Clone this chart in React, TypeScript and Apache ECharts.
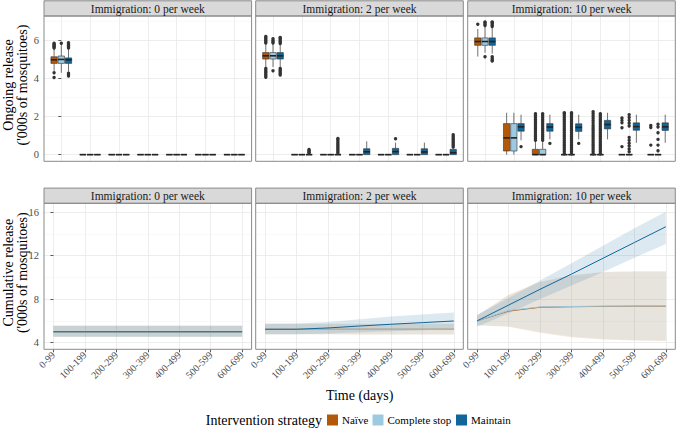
import React, { useEffect, useRef } from 'react';
import * as echarts from 'echarts';

// ---------------- DATA ----------------
const categories = ['0-99', '100-199', '200-299', '300-399', '400-499', '500-599', '600-699'];
const strategies = ['Naïve', 'Complete stop', 'Maintain'];
const strategyColors = ['#B35806', '#9ECAE1', '#10669A'];
const panelTitles = ['Immigration: 0 per week', 'Immigration: 2 per week', 'Immigration: 10 per week'];
const ongoingTicks = [0, 2, 4, 6];
const ongoingMinorTicks = [1, 3, 5, 7];
const cumulativeTicks = [4, 8, 12, 16];
const cumulativeMinorTicks = [6, 10, 14];
const timeTicks = [0, 1, 2, 3, 4, 5, 6];

// Ongoing release boxes: [lower whisker, Q1, median, Q3, upper whisker] per time window
const boxImm0Naive = [[4.4, 4.79, 4.98, 5.14, 5.55], [0, 0, 0, 0, 0], [0, 0, 0, 0, 0], [0, 0, 0, 0, 0], [0, 0, 0, 0, 0], [0, 0, 0, 0, 0], [0, 0, 0, 0, 0]];
const boxImm0Stop = [[4.3, 4.79, 5.0, 5.18, 5.8], [0, 0, 0, 0, 0], [0, 0, 0, 0, 0], [0, 0, 0, 0, 0], [0, 0, 0, 0, 0], [0, 0, 0, 0, 0], [0, 0, 0, 0, 0]];
const boxImm0Maintain = [[4.35, 4.79, 4.98, 5.08, 5.55], [0, 0, 0, 0, 0], [0, 0, 0, 0, 0], [0, 0, 0, 0, 0], [0, 0, 0, 0, 0], [0, 0, 0, 0, 0], [0, 0, 0, 0, 0]];
const boxImm2Naive = [[4.55, 5.02, 5.19, 5.36, 5.8], [0, 0, 0, 0, 0], [0, 0, 0, 0, 0], [0, 0, 0, 0, 0], [0, 0, 0, 0, 0], [0, 0, 0, 0, 0], [0, 0, 0, 0, 0]];
const boxImm2Stop = [[4.6, 5.02, 5.19, 5.36, 5.8], [0, 0, 0, 0, 0], [0, 0, 0, 0, 0], [0, 0, 0, 0, 0], [0, 0, 0, 0, 0], [0, 0, 0, 0, 0], [0, 0, 0, 0, 0]];
const boxImm2Maintain = [[4.6, 5.02, 5.19, 5.36, 5.8], [0, 0, 0, 0, 0], [0, 0, 0, 0, 0], [0, 0, 0.15, 0.31, 0.7], [0, 0, 0.16, 0.33, 0.63], [0, 0, 0.14, 0.31, 0.63], [0, 0, 0.1, 0.28, 0.34]];
const boxImm10Naive = [[5.15, 5.74, 5.94, 6.13, 6.6], [0, 0.19, 0.88, 1.63, 2.2], [0, 0, 0, 0.28, 0.7], [0, 0, 0, 0, 0], [0, 0, 0, 0, 0], [0, 0, 0, 0, 0], [0, 0, 0, 0, 0]];
const boxImm10Stop = [[5.35, 5.74, 5.94, 6.13, 6.7], [0, 0.19, 0.88, 1.63, 2.2], [0, 0, 0, 0.28, 0.7], [0, 0, 0, 0, 0], [0, 0, 0, 0, 0], [0, 0, 0, 0, 0], [0, 0, 0, 0, 0]];
const boxImm10Maintain = [[5.3, 5.74, 5.94, 6.13, 6.7], [0.75, 1.23, 1.46, 1.63, 2.1], [0.8, 1.23, 1.45, 1.63, 2.1], [0.8, 1.22, 1.43, 1.62, 2.1], [0.8, 1.35, 1.58, 1.8, 2.2], [0.62, 1.28, 1.47, 1.67, 2.1], [0.62, 1.27, 1.46, 1.67, 2.1]];

// Ongoing release outliers per time window
const outImm0Naive = [[5.6, 5.65, 5.7, 5.75, 5.8, 5.85, 4.3, 4.05], [], [], [], [], [], []];
const outImm0Stop = [[5.85], [], [], [], [], [], []];
const outImm0Maintain = [[5.6, 5.65, 5.7, 5.75, 5.8, 5.88, 4.28, 4.2, 4.13], [], [], [], [], [], []];
const outImm2Naive = [[5.86, 5.93, 6.0, 6.07, 6.14, 6.2, 4.53, 4.45, 4.37, 4.3, 4.22, 4.14, 4.06], [], [], [], [], [], []];
const outImm2Stop = [[5.86, 5.93, 6.0, 6.09, 4.4], [], [], [], [], [], []];
const outImm2Maintain = [
  [5.83, 5.9, 5.97, 6.04, 6.11, 6.15, 4.53, 4.46, 4.39, 4.32, 4.25, 4.18],
  [0.07, 0.12, 0.17, 0.22, 0.27],
  [0.07, 0.15, 0.23, 0.31, 0.39, 0.47, 0.55, 0.63, 0.71, 0.79, 0.85],
  [],
  [0.83],
  [],
  [0.4, 0.48, 0.56, 0.64, 0.72, 0.8, 0.88, 0.96, 1.04],
];
const outImm10Naive = [
  [6.85],
  [],
  [0.75, 0.85, 0.95, 1.05, 1.15, 1.25, 1.35, 1.45, 1.55, 1.65, 1.75, 1.85, 1.95, 2.05, 2.15],
  [0.05, 0.15, 0.25, 0.35, 0.45, 0.55, 0.65, 0.75, 0.85, 0.95, 1.05, 1.15, 1.25, 1.35, 1.45, 1.55, 1.65, 1.75, 1.85, 1.95, 2.05, 2.15, 2.2],
  [0.05, 0.15, 0.25, 0.35, 0.45, 0.55, 0.65, 0.75, 0.85, 0.95, 1.05, 1.15, 1.25, 1.35, 1.45, 1.55, 1.67, 1.79, 1.91, 2.03, 2.15, 2.25],
  [1.93, 1.8, 1.67, 1.41, 0.42],
  [1.53, 1.42, 0.5],
];
const outImm10Stop = [
  [6.78, 6.85, 6.92, 6.97, 5.14],
  [],
  [0.75, 0.85, 0.95, 1.05, 1.15, 1.25, 1.35, 1.45, 1.55, 1.65, 1.75, 1.85, 1.95, 2.05, 2.15],
  [0.05, 0.15, 0.25, 0.35, 0.45, 0.55, 0.65, 0.75, 0.85, 0.95, 1.05, 1.15, 1.25, 1.35, 1.45, 1.55, 1.65, 1.75, 1.85, 1.95, 2.05, 2.15, 2.2],
  [0.05, 0.15, 0.25, 0.35, 0.45, 0.55, 0.65, 0.75, 0.85, 0.95, 1.05, 1.15, 1.25, 1.35, 1.45, 1.55, 1.65, 1.75, 1.85, 1.95, 2.05, 2.15],
  [2.1, 1.95, 1.8, 1.65, 1.5, 0.9, 0.75, 0.6, 0.45, 0.3, 0.15],
  [1.6, 1.45, 1.15, 0.8, 0.5, 0.2],
];
const outImm10Maintain = [[6.73, 6.8, 6.87, 6.94, 6.97, 5.14, 5.05, 4.96, 4.92], [0.42], [0.59], [0.59], [], [], []];

// Cumulative release: mean, lower and upper bound per time window
const cumImm0NaiveMean = [5.0, 5.0, 5.0, 5.0, 5.0, 5.0, 5.0];
const cumImm0NaiveLow = [4.55, 4.55, 4.55, 4.55, 4.55, 4.55, 4.55];
const cumImm0NaiveHigh = [5.55, 5.55, 5.55, 5.55, 5.55, 5.55, 5.55];
const cumImm0StopMean = [5.0, 5.0, 5.0, 5.0, 5.0, 5.0, 5.0];
const cumImm0StopLow = [4.55, 4.55, 4.55, 4.55, 4.55, 4.55, 4.55];
const cumImm0StopHigh = [5.55, 5.55, 5.55, 5.55, 5.55, 5.55, 5.55];
const cumImm0MaintainMean = [5.0, 5.0, 5.0, 5.0, 5.0, 5.0, 5.0];
const cumImm0MaintainLow = [4.55, 4.55, 4.55, 4.55, 4.55, 4.55, 4.55];
const cumImm0MaintainHigh = [5.55, 5.55, 5.55, 5.55, 5.55, 5.55, 5.55];

const cumImm2NaiveMean = [5.23, 5.23, 5.23, 5.23, 5.23, 5.23, 5.23];
const cumImm2NaiveLow = [4.77, 4.77, 4.77, 4.76, 4.76, 4.76, 4.76];
const cumImm2NaiveHigh = [5.74, 5.74, 5.74, 5.74, 5.74, 5.74, 5.74];
const cumImm2StopMean = [5.23, 5.23, 5.23, 5.23, 5.23, 5.23, 5.23];
const cumImm2StopLow = [4.77, 4.77, 4.77, 4.77, 4.77, 4.77, 4.77];
const cumImm2StopHigh = [5.74, 5.74, 5.74, 5.74, 5.74, 5.74, 5.74];
const cumImm2MaintainMean = [5.23, 5.23, 5.35, 5.53, 5.69, 5.84, 5.99];
const cumImm2MaintainLow = [4.77, 4.77, 4.85, 4.95, 5.05, 5.15, 5.25];
const cumImm2MaintainHigh = [5.74, 5.76, 5.9, 6.15, 6.4, 6.58, 6.76];

const cumImm10NaiveMean = [6.0, 6.9, 7.25, 7.3, 7.33, 7.35, 7.35];
const cumImm10NaiveLow = [5.6, 5.45, 4.9, 4.5, 4.3, 4.2, 4.15];
const cumImm10NaiveHigh = [6.5, 8.4, 9.6, 10.2, 10.5, 10.55, 10.55];
const cumImm10StopMean = [6.0, 6.95, 7.28, 7.32, 7.35, 7.36, 7.37];
const cumImm10StopLow = [5.6, 5.5, 5.0, 4.6, 4.35, 4.25, 4.2];
const cumImm10StopHigh = [6.5, 8.3, 9.5, 10.1, 10.45, 10.5, 10.5];
const cumImm10MaintainMean = [6.0, 7.45, 8.9, 10.3, 11.75, 13.2, 14.65];
const cumImm10MaintainLow = [5.47, 6.7, 8.0, 9.25, 10.5, 11.8, 13.06];
const cumImm10MaintainHigh = [6.54, 8.1, 9.7, 11.3, 12.9, 14.5, 16.03];

// ---------------- LAYOUT / STYLE ----------------
const FONT = 'Liberation Serif';
const panelLeft = [44, 255.7, 467.7];
const panelWidth = 207.6;
const rowTop = [16, 203.3];
const rowHeight = [145.3, 146];
const stripHeight = 15.2;
const xRange = [[-0.6, 6.6], [-0.3, 6.3]];
const yRange = [[-0.35, 7.28], [3.39, 16.8]];
const boxOffsets = [-0.25, 0, 0.25];
const boxWidth = 0.22;
const bandAlpha = 0.14;

const ongoingBoxes = [
  [boxImm0Naive, boxImm0Stop, boxImm0Maintain],
  [boxImm2Naive, boxImm2Stop, boxImm2Maintain],
  [boxImm10Naive, boxImm10Stop, boxImm10Maintain],
];
const ongoingOutliers = [
  [outImm0Naive, outImm0Stop, outImm0Maintain],
  [outImm2Naive, outImm2Stop, outImm2Maintain],
  [outImm10Naive, outImm10Stop, outImm10Maintain],
];
const cumMean = [
  [cumImm0NaiveMean, cumImm0StopMean, cumImm0MaintainMean],
  [cumImm2NaiveMean, cumImm2StopMean, cumImm2MaintainMean],
  [cumImm10NaiveMean, cumImm10StopMean, cumImm10MaintainMean],
];
const cumLow = [
  [cumImm0NaiveLow, cumImm0StopLow, cumImm0MaintainLow],
  [cumImm2NaiveLow, cumImm2StopLow, cumImm2MaintainLow],
  [cumImm10NaiveLow, cumImm10StopLow, cumImm10MaintainLow],
];
const cumHigh = [
  [cumImm0NaiveHigh, cumImm0StopHigh, cumImm0MaintainHigh],
  [cumImm2NaiveHigh, cumImm2StopHigh, cumImm2MaintainHigh],
  [cumImm10NaiveHigh, cumImm10StopHigh, cumImm10MaintainHigh],
];

function textStyle(text: string, size: number, align: string, color = '#000', extra: any = {}) {
  return {
    text, fontSize: size, fontFamily: FONT, fill: color,
    align, verticalAlign: 'middle', textAlign: align, textVerticalAlign: 'middle',
    ...extra,
  };
}

function buildOption() {
  const grids: any[] = [];
  const xAxes: any[] = [];
  const yAxes: any[] = [];
  const series: any[] = [];
  const graphics: any[] = [];

  for (let r = 0; r < 2; r++) {
    for (let c = 0; c < 3; c++) {
      const g = r * 3 + c;
      grids.push({ left: panelLeft[c], top: rowTop[r], width: panelWidth, height: rowHeight[r], show: false, containLabel: false });
      xAxes.push({
        type: 'value', gridIndex: g, min: xRange[r][0], max: xRange[r][1],
        axisLine: { show: false },
        axisTick: { show: r === 1, customValues: timeTicks, length: 3, lineStyle: { color: '#333', width: 0.8 } },
        axisLabel: {
          show: r === 1, customValues: timeTicks, rotate: 45, margin: 4,
          formatter: (v: number) => categories[Math.round(v)] ?? '',
          fontFamily: FONT, fontSize: 10, color: '#4d4d4d',
        },
        splitLine: { show: true, lineStyle: { color: '#ebebeb', width: 0.9 } },
      });
      const major = r === 0 ? ongoingTicks : cumulativeTicks;
      const minor = r === 0 ? ongoingMinorTicks : cumulativeMinorTicks;
      yAxes.push({
        type: 'value', gridIndex: g, min: yRange[r][0], max: yRange[r][1], position: 'left',
        axisLine: { show: false },
        axisTick: { show: c === 0, customValues: major, length: 3, lineStyle: { color: '#333', width: 0.8 } },
        axisLabel: { show: c === 0, customValues: major, margin: 5, fontFamily: FONT, fontSize: 10.5, color: '#4d4d4d' },
        splitLine: { show: true, lineStyle: { color: '#ebebeb', width: 0.9 } },
      });
      yAxes.push({
        type: 'value', gridIndex: g, min: yRange[r][0], max: yRange[r][1], position: 'left',
        axisLine: { show: false },
        axisTick: { show: false, customValues: minor },
        axisLabel: { show: false, customValues: minor },
        splitLine: { show: true, lineStyle: { color: '#f3f3f3', width: 0.5 } },
      });

      // strip
      const stripTop = rowTop[r] - stripHeight;
      graphics.push({
        type: 'rect', z: 50,
        shape: { x: panelLeft[c], y: stripTop, width: panelWidth, height: stripHeight },
        style: { fill: '#d9d9d9', stroke: '#8a8a8a', lineWidth: 1 },
      });
      graphics.push({
        type: 'text', z: 51, x: panelLeft[c] + panelWidth / 2, y: stripTop + stripHeight / 2 + 0.5,
        style: textStyle(panelTitles[c], 11.5, 'center', '#1a1a1a'),
      });
      // panel border
      graphics.push({
        type: 'rect', z: 50,
        shape: { x: panelLeft[c], y: rowTop[r], width: panelWidth, height: rowHeight[r] },
        style: { fill: 'none', stroke: '#8a8a8a', lineWidth: 1 },
      });
    }
  }

  // Top row: box plots
  for (let c = 0; c < 3; c++) {
    for (let s = 0; s < 3; s++) {
      const color = strategyColors[s];
      const boxes = ongoingBoxes[c][s];
      series.push({
        type: 'custom', name: strategies[s], xAxisIndex: c, yAxisIndex: c * 2, silent: true,
        encode: { x: 0, y: [1, 2, 3, 4, 5] },
        data: boxes.map((b, ci) => [ci + boxOffsets[s], b[0], b[1], b[2], b[3], b[4]]),
        renderItem: (params: any, api: any) => {
          const x = api.value(0);
          const low = api.coord([x, api.value(1)]);
          const q1 = api.coord([x, api.value(2)]);
          const med = api.coord([x, api.value(3)]);
          const q3 = api.coord([x, api.value(4)]);
          const high = api.coord([x, api.value(5)]);
          const w = api.size([boxWidth, 0])[0];
          const edge = '#333333';
          return {
            type: 'group',
            children: [
              { type: 'line', shape: { x1: low[0], y1: low[1], x2: q1[0], y2: q1[1] }, style: { stroke: edge, lineWidth: 0.7 } },
              { type: 'line', shape: { x1: q3[0], y1: q3[1], x2: high[0], y2: high[1] }, style: { stroke: edge, lineWidth: 0.7 } },
              { type: 'rect', shape: { x: q3[0] - w / 2, y: q3[1], width: w, height: q1[1] - q3[1] }, style: { fill: color, stroke: edge, lineWidth: 0.6 } },
              { type: 'line', shape: { x1: med[0] - w / 2, y1: med[1], x2: med[0] + w / 2, y2: med[1] }, style: { stroke: '#222', lineWidth: 1.6 } },
            ],
          };
        },
      });
    }
    for (let s = 0; s < 3; s++) {
      const pts: number[][] = [];
      ongoingOutliers[c][s].forEach((vals, ci) => vals.forEach((v) => pts.push([ci + boxOffsets[s], v])));
      series.push({
        type: 'scatter', xAxisIndex: c, yAxisIndex: c * 2, silent: true,
        symbolSize: 3.4, itemStyle: { color: '#333333', opacity: 1 }, data: pts,
      });
    }
  }

  // Bottom row: ribbons and lines
  for (let c = 0; c < 3; c++) {
    const g = 3 + c;
    for (let s = 0; s < 3; s++) {
      const lo = cumLow[c][s];
      const hi = cumHigh[c][s];
      const fill = echarts.color.modifyAlpha(strategyColors[s], bandAlpha);
      series.push({
        type: 'custom', xAxisIndex: g, yAxisIndex: g * 2, silent: true,
        data: [[0, lo[0]]],
        renderItem: (params: any, api: any) => {
          const points: number[][] = [];
          for (let i = 0; i < hi.length; i++) points.push(api.coord([i, hi[i]]));
          for (let i = lo.length - 1; i >= 0; i--) points.push(api.coord([i, lo[i]]));
          return { type: 'polygon', shape: { points }, style: { fill } };
        },
      });
    }
    for (let s = 0; s < 3; s++) {
      series.push({
        type: 'line', xAxisIndex: g, yAxisIndex: g * 2, silent: true,
        showSymbol: false, symbol: 'none',
        lineStyle: { color: strategyColors[s], width: 1 },
        data: cumMean[c][s].map((v, i) => [i, v]),
      });
    }
  }

  // Axis titles
  graphics.push({
    type: 'text', z: 60, x: 15, y: (rowTop[0] - stripHeight + rowTop[0] + rowHeight[0]) / 2 + 4, rotation: Math.PI / 2,
    style: textStyle("Ongoing release\n('000s of mosquitoes)", 14, 'center', '#000', { lineHeight: 14 }),
  });
  graphics.push({
    type: 'text', z: 60, x: 15, y: (rowTop[1] - stripHeight + rowTop[1] + rowHeight[1]) / 2 + 4, rotation: Math.PI / 2,
    style: textStyle("Cumulative release\n('000s of mosquitoes)", 14, 'center', '#000', { lineHeight: 14 }),
  });
  graphics.push({
    type: 'text', z: 60, x: (panelLeft[0] + panelLeft[2] + panelWidth) / 2, y: 395,
    style: textStyle('Time (days)', 14, 'center'),
  });

  // Legend
  const legendY = 420;
  graphics.push({
    type: 'text', z: 60, x: 322, y: legendY,
    style: textStyle('Intervention strategy', 14, 'right'),
  });
  const swatchX = [327, 372.5, 456];
  const labelX = [342, 387.5, 471];
  for (let s = 0; s < 3; s++) {
    graphics.push({
      type: 'rect', z: 60, shape: { x: swatchX[s], y: legendY - 5.5, width: 11, height: 11 },
      style: { fill: strategyColors[s], stroke: 'none' },
    });
    graphics.push({
      type: 'text', z: 60, x: labelX[s], y: legendY,
      style: textStyle(strategies[s], 11, 'left'),
    });
  }

  return {
    animation: false,
    backgroundColor: '#ffffff',
    textStyle: { fontFamily: FONT },
    grid: grids,
    xAxis: xAxes,
    yAxis: yAxes,
    series,
    graphic: { elements: graphics },
  };
}

export default function App() {
  const ref = useRef<HTMLDivElement>(null);
  useEffect(() => {
    if (!ref.current) return;
    const chart = echarts.init(ref.current, null, { renderer: 'svg' });
    chart.setOption(buildOption() as any);
    return () => chart.dispose();
  }, []);
  return (
    <div
      ref={ref}
      style={{ position: 'fixed', left: 0, top: 0, width: 676, height: 428, background: '#fff' }}
    />
  );
}
